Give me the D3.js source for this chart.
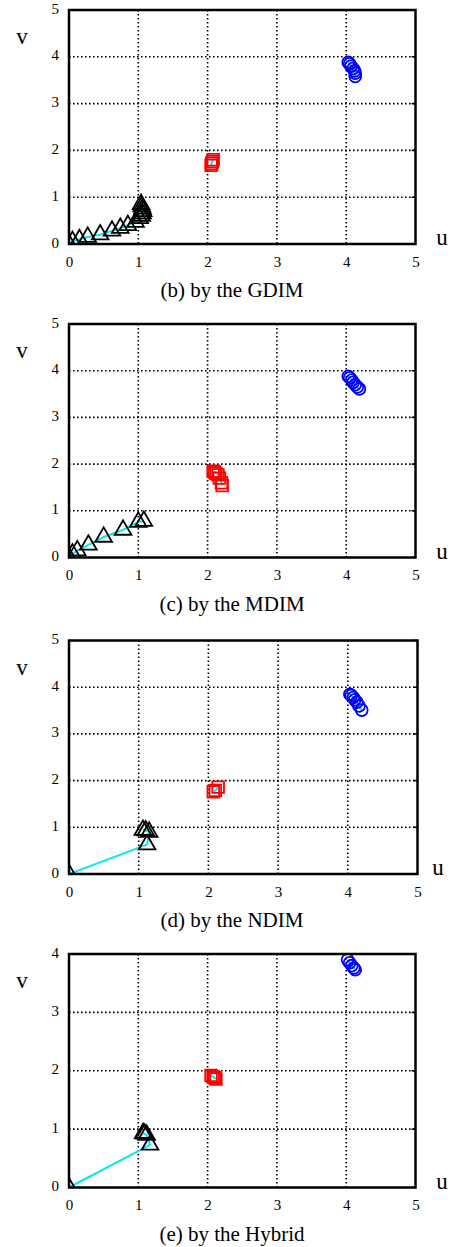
<!DOCTYPE html>
<html>
<head>
<meta charset="utf-8">
<script src="https://cdn.jsdelivr.net/npm/d3@7"></script>
<style>
  body { margin: 0; background: #fff; }
  svg { display: block; }
  text { font-family: "Liberation Serif", "DejaVu Serif", serif; fill: #000; }
</style>
</head>
<body>
<div id="chart"></div>
<script>
// captions and v-axis upper limit for each panel
const captions = ["(b) by the GDIM", "(c) by the MDIM", "(d) by the NDIM", "(e) by the Hybrid"];
const vMax = [5, 5, 5, 4];
const uTicks = [0, 1, 2, 3, 4, 5];

// trajectories [u, v]
const triGDIM = [[0, 0], [0.05, 0.06], [0.15, 0.1], [0.27, 0.15], [0.45, 0.2], [0.62, 0.28], [0.74, 0.34], [0.85, 0.4], [0.96, 0.47], [1.02, 0.55], [1.05, 0.6], [1.06, 0.65], [1.07, 0.7], [1.06, 0.75], [1.05, 0.8], [1.04, 0.85]];
const sqGDIM = [[2.05, 1.68], [2.06, 1.72], [2.07, 1.76], [2.08, 1.8]];
const cirGDIM = [[4.03, 3.88], [4.05, 3.85], [4.07, 3.8], [4.1, 3.75], [4.12, 3.7], [4.13, 3.65], [4.13, 3.58]];

const triMDIM = [[0, 0], [0.05, 0.08], [0.12, 0.15], [0.28, 0.27], [0.5, 0.44], [0.78, 0.59], [1.0, 0.76], [1.08, 0.78]];
const sqMDIM = [[2.08, 1.85], [2.1, 1.83], [2.12, 1.8], [2.15, 1.77], [2.17, 1.7], [2.2, 1.6], [2.21, 1.54]];
const cirMDIM = [[4.03, 3.88], [4.05, 3.85], [4.08, 3.8], [4.1, 3.75], [4.13, 3.7], [4.16, 3.65], [4.19, 3.61]];

const triNDIM = [[0, 0], [1.12, 0.63], [1.15, 0.9], [1.1, 0.93], [1.06, 0.94]];
const sqNDIM = [[2.07, 1.76], [2.1, 1.79], [2.14, 1.86]];
const cirNDIM = [[4.03, 3.85], [4.05, 3.82], [4.08, 3.78], [4.1, 3.73], [4.13, 3.68], [4.16, 3.6], [4.2, 3.51]];

const triHybrid = [[0, 0], [1.17, 0.73], [1.12, 0.9], [1.09, 0.92], [1.07, 0.93]];
const sqHybrid = [[2.05, 1.92], [2.08, 1.9], [2.1, 1.88], [2.12, 1.86]];
const cirHybrid = [[4.02, 3.9], [4.05, 3.85], [4.08, 3.8], [4.11, 3.76], [4.13, 3.73]];

const panels = [
  { tri: triGDIM, sq: sqGDIM, cir: cirGDIM },
  { tri: triMDIM, sq: sqMDIM, cir: cirMDIM },
  { tri: triNDIM, sq: sqNDIM, cir: cirNDIM },
  { tri: triHybrid, sq: sqHybrid, cir: cirHybrid }
];

// plot frames in page pixels
const frames = [
  { left: 69, right: 415.5, top: 10, bottom: 244 },
  { left: 69, right: 415.5, top: 324, bottom: 557.5 },
  { left: 69, right: 417.5, top: 640.5, bottom: 874 },
  { left: 69, right: 415.5, top: 954, bottom: 1187.5 }
];

const svg = d3.select("#chart")
  .append("svg")
  .attr("width", 454)
  .attr("height", 1247);

panels.forEach((p, i) => {
  const f = frames[i];
  const x = d3.scaleLinear().domain([0, 5]).range([f.left, f.right]);
  const y = d3.scaleLinear().domain([0, vMax[i]]).range([f.bottom, f.top]);
  const vTicks = d3.range(0, vMax[i] + 1);
  const g = svg.append("g");

  // clip marks to the plot frame
  svg.append("clipPath").attr("id", "clip" + i)
    .append("rect")
    .attr("x", f.left).attr("y", f.top)
    .attr("width", f.right - f.left).attr("height", f.bottom - f.top);

  // dotted grid
  g.selectAll(".gx")
    .data(uTicks.slice(1, -1))
    .join("line")
    .attr("x1", d => x(d)).attr("x2", d => x(d))
    .attr("y1", f.top).attr("y2", f.bottom)
    .attr("stroke", "#000").attr("stroke-width", 1.6)
    .attr("stroke-dasharray", "1.6,2.4");
  g.selectAll(".gy")
    .data(vTicks.slice(1, -1))
    .join("line")
    .attr("x1", f.left).attr("x2", f.right)
    .attr("y1", d => y(d)).attr("y2", d => y(d))
    .attr("stroke", "#000").attr("stroke-width", 1.6)
    .attr("stroke-dasharray", "1.6,2.4");

  // axes with labels
  const xAxis = g.append("g")
    .attr("transform", `translate(0,${f.bottom})`)
    .call(d3.axisBottom(x).tickValues(uTicks).tickSize(0).tickPadding(12).tickFormat(d3.format("d")));
  const yAxis = g.append("g")
    .attr("transform", `translate(${f.left},0)`)
    .call(d3.axisLeft(y).tickValues(vTicks).tickSize(0).tickPadding(10).tickFormat(d3.format("d")));
  [xAxis, yAxis].forEach(a => {
    a.select(".domain").remove();
    a.selectAll("text").style("font-family", "Liberation Serif").style("font-size", "15px");
  });
  yAxis.selectAll("text").attr("dy", "0.2em");

  // inward tick marks on the frame
  g.selectAll(".tr")
    .data(vTicks)
    .join("line")
    .attr("x1", f.right - 4).attr("x2", f.right)
    .attr("y1", d => y(d)).attr("y2", d => y(d))
    .attr("stroke", "#000").attr("stroke-width", 1.5);

  const marks = g.append("g").attr("clip-path", `url(#clip${i})`);

  // cyan trajectories
  const line = d3.line().x(d => x(d[0])).y(d => y(d[1]));
  [p.tri, p.sq, p.cir].forEach(s => {
    marks.append("path")
      .attr("d", line(s))
      .attr("fill", "none")
      .attr("stroke", "#00e8f0")
      .attr("stroke-width", 2);
  });

  // markers
  const marker = (data, type, size, color) => {
    marks.append("g").selectAll("path")
      .data(data)
      .join("path")
      .attr("transform", d => `translate(${x(d[0])},${y(d[1])})`)
      .attr("d", d3.symbol().type(type).size(size))
      .attr("fill", "none")
      .attr("stroke", color)
      .attr("stroke-width", 1.8);
  };
  marker(p.tri, d3.symbolTriangle, 120, "#000");
  marker(p.sq, d3.symbolSquare, 135, "#ff0000");
  marker(p.cir, d3.symbolCircle, 110, "#0000ff");

  // frame
  g.append("rect")
    .attr("x", f.left).attr("y", f.top)
    .attr("width", f.right - f.left).attr("height", f.bottom - f.top)
    .attr("fill", "none").attr("stroke", "#000").attr("stroke-width", 2.5);

  // axis names and caption
  g.append("text")
    .attr("x", 22).attr("y", f.top + 34)
    .attr("text-anchor", "middle")
    .style("font-size", "23px")
    .text("v");
  g.append("text")
    .attr("x", i === 2 ? 438 : 442).attr("y", f.bottom + 1)
    .attr("text-anchor", "middle")
    .style("font-size", "23px")
    .text("u");
  g.append("text")
    .attr("x", 232).attr("y", f.bottom + 53)
    .attr("text-anchor", "middle")
    .style("font-size", "21px")
    .text(captions[i]);
});
</script>
</body>
</html>
